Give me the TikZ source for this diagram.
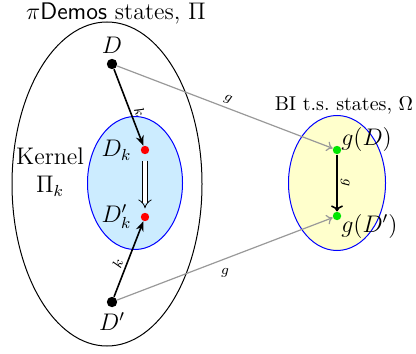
\documentclass[tikz,border=0pt]{standalone}
\usepackage{amsmath}
\usetikzlibrary{arrows.meta, positioning, shapes.geometric}
\definecolor{kblue}{RGB}{204,236,255}
\definecolor{oyellow}{RGB}{255,255,204}
\definecolor{sgreen}{RGB}{0,230,0}
\begin{document}
\begin{tikzpicture}[
  x=0.5pt, y=-0.5pt, font=\large,
  region/.style={ellipse, draw=#1, line width=0.5pt, inner sep=0pt},
  dot/.style={circle, fill=#1, inner sep=0pt, minimum size=4.2pt},
  bigdot/.style={circle, fill=black, inner sep=0pt, minimum size=5.2pt},
  kmap/.style={-{Stealth[length=5pt,width=4pt]}, line width=0.8pt},
  gmap/.style={-{To[length=3pt,width=5pt]}, gray!80, line width=0.6pt},
  lbl/.style={font=\scriptsize, text=black, inner sep=1.5pt}
]
\useasboundingbox (0,0) rectangle (416,353);

% ---- state spaces ----
\node[region=black, minimum width=95pt, minimum height=162pt] (Pi) at (107,184) {};
\node[region=blue, fill=kblue, minimum width=47.5pt, minimum height=66.5pt] (Pik) at (135,183) {};
\node[region=blue, fill=oyellow, minimum width=48.5pt, minimum height=67.5pt] (Om) at (337,183) {};

\node (tPi) at (116,13) {$\pi$\textsf{Demos} states, $\Pi$};
\node[font=\normalsize] (tOm) at (344,106) {BI t.s.\ states, $\Omega$};
\node[align=center, inner sep=0pt] (tPik) at (50,172) {Kernel\\$\Pi_k$};

% ---- points ----
\node[bigdot] (D) at (112,64) {};
\node[bigdot] (Dp) at (112,302) {};
\node[dot=red] (Dk) at (145,150) {};
\node[dot=red] (Dkp) at (145,217) {};
\node[dot=sgreen] (gD) at (337,150) {};
\node[dot=sgreen] (gDp) at (337,216) {};

\node[above=-1pt of D] (tD) {$D$};
\node[below=-1pt of Dp] (tDp) {$D'$};
\node[left=1pt of Dk] (tDk) {$D_k$};
\node[left=1pt of Dkp] (tDkp) {$D'_k$};
\node[above right=-6pt and -3pt of gD] (tgD) {$g(D)$};
\node[below right=-6pt and -3pt of gDp] (tgDp) {$g(D')$};

% ---- maps ----
\draw[kmap] (D) -- node[lbl, sloped, above right] {$k$} (Dk);
\draw[kmap] (Dp) -- node[lbl, sloped, above left] {$k$} (Dkp);
\draw[double, double distance=2pt, line width=0.4pt, -{Implies}, shorten <=3pt, shorten >=2pt] (Dk) -- (Dkp);
\draw[gmap] (D) -- node[lbl, sloped, above] {$g$} (gD);
\draw[gmap] (Dp) -- node[lbl, below=3pt] {$g$} (gDp);
\draw[-{To[length=3pt,width=6pt]}, line width=0.8pt] (gD) -- node[lbl, sloped, above] {$g$} (gDp);

\end{tikzpicture}
\end{document}
